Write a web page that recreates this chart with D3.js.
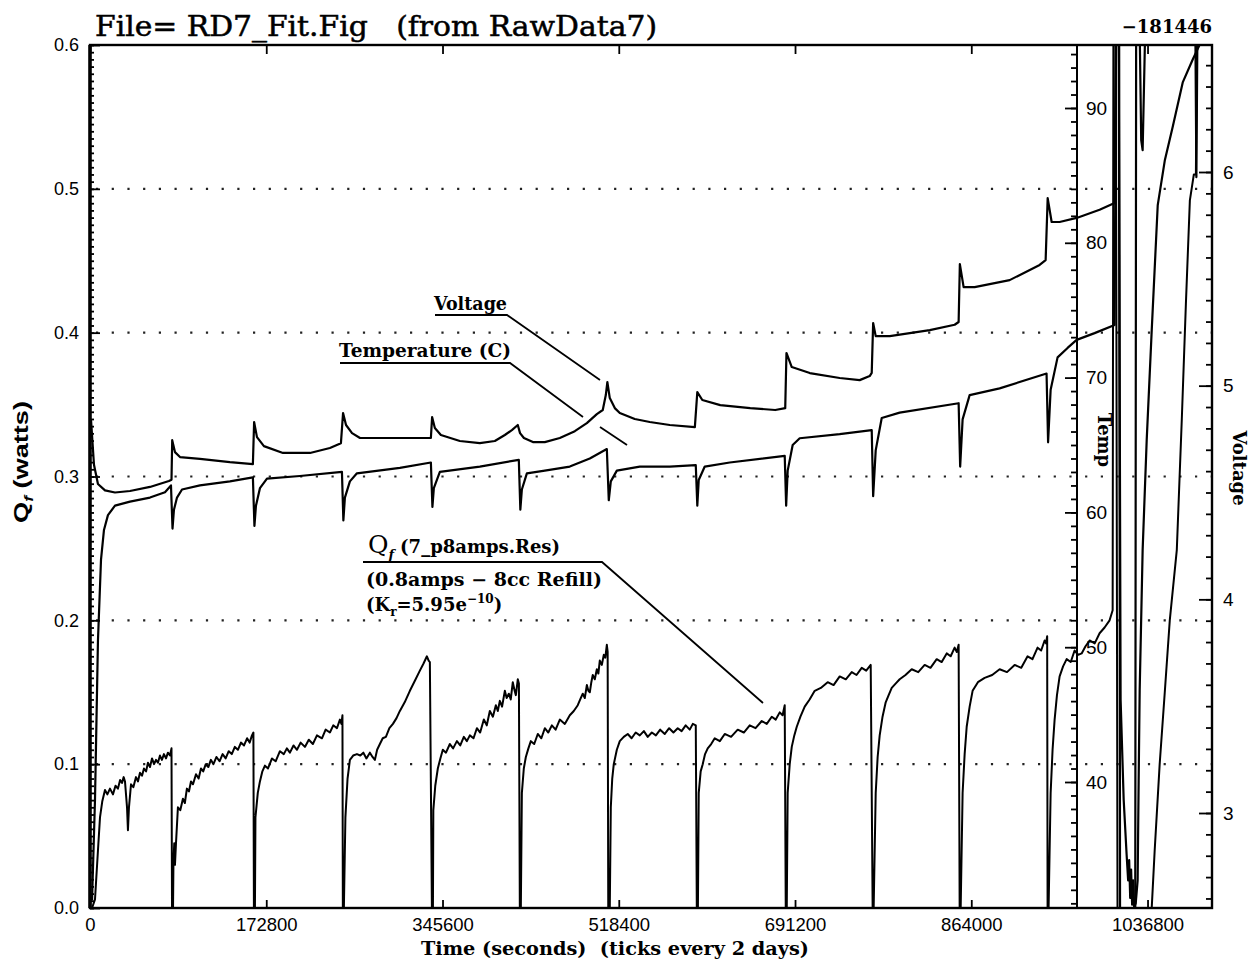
<!DOCTYPE html>
<html><head><meta charset="utf-8">
<script src="https://cdn.jsdelivr.net/npm/d3@7"></script>
<style>body{margin:0;background:#fff;} svg{display:block;} .pre{white-space:pre;}</style>
</head><body>
<svg id="chart" width="1255" height="966"></svg>
<script>
// ---------------- DATA ----------------
const xTickValues = [0, 172800, 345600, 518400, 691200, 864000, 1036800];
const qTickValues = [0, 0.1, 0.2, 0.3, 0.4, 0.5, 0.6];
const qGridValues = [0.1, 0.2, 0.3, 0.4, 0.5];
const tempTickValues = [40, 50, 60, 70, 80, 90];
const voltTickValues = [3, 4, 5, 6];

// Q_f (watts) vs time (s)
const qSeries = [
[2000,0],[4900,0.006],[7800,0.04],[9800,0.063],[12000,0.074],[14700,0.082],[17000,0.079],[19600,0.083],[22500,0.079],[25000,0.085],[27400,0.083],[29500,0.089],[31400,0.087],[33000,0.091],[34300,0.088],[36300,0.07],[37200,0.054],[38200,0.07],[40200,0.086],[42500,0.084],[45100,0.091],[47000,0.088],[49000,0.094],[51000,0.092],[52900,0.097],[55000,0.095],[56800,0.101],[58800,0.098],[60800,0.104],[62800,0.1],[64700,0.103],[66600,0.101],[68600,0.106],[70500,0.103],[72500,0.107],[74500,0.104],[76400,0.108],[78400,0.106],[79900,0.111],[80400,0],
[81400,0],[81800,0.031],[82600,0.045],[83300,0.03],[84300,0.045],[86200,0.07],[88500,0.068],[91100,0.076],[93000,0.073],[95000,0.083],[97000,0.081],[99000,0.088],[101000,0.086],[103900,0.093],[106500,0.09],[108800,0.097],[111000,0.095],[113500,0.1],[116000,0.098],[118500,0.103],[121000,0.1],[124000,0.105],[127000,0.102],[130000,0.107],[133000,0.104],[136000,0.109],[139000,0.107],[142000,0.112],[145000,0.11],[148000,0.115],[151000,0.113],[154000,0.118],[156500,0.115],[158800,0.12],[160200,0.122],[160700,0],
[161700,0],[162200,0.063],[164500,0.08],[166600,0.088],[169000,0.095],[171500,0.099],[174500,0.097],[178400,0.104],[182000,0.102],[186200,0.109],[190000,0.107],[193000,0.111],[196000,0.108],[199500,0.113],[202900,0.11],[206500,0.115],[210700,0.112],[214500,0.117],[218500,0.114],[222500,0.12],[227400,0.118],[231000,0.124],[235200,0.122],[238500,0.127],[242100,0.125],[245000,0.131],[246500,0.128],[247500,0.134],[247900,0],
[248900,0],[250400,0.063],[252500,0.09],[254800,0.103],[258000,0.106],[261700,0.107],[265000,0.106],[268000,0.108],[271000,0.104],[274400,0.108],[277000,0.105],[279300,0.103],[281500,0.11],[284200,0.114],[287000,0.118],[290100,0.119],[293500,0.125],[297000,0.128],[300500,0.132],[303800,0.137],[308500,0.143],[313600,0.151],[318500,0.158],[323400,0.165],[327000,0.17],[330300,0.175],[332000,0.172],[333200,0.171],[335200,0],
[336200,0],[336600,0.068],[338500,0.085],[341000,0.097],[343500,0.104],[345900,0.11],[349000,0.108],[352800,0.114],[356000,0.111],[359700,0.116],[363000,0.113],[366500,0.119],[369500,0.116],[372400,0.12],[376000,0.118],[379300,0.125],[382500,0.122],[386100,0.131],[389000,0.127],[392000,0.137],[395000,0.133],[397900,0.141],[399800,0.137],[401800,0.144],[404000,0.14],[406700,0.151],[408500,0.146],[410600,0.149],[412500,0.145],[414500,0.157],[416000,0.152],[417500,0.148],[419400,0.159],[420500,0.156],[421400,0],
[422400,0],[423400,0.08],[425300,0.097],[427300,0.105],[429800,0.111],[432200,0.116],[435500,0.114],[439000,0.121],[442500,0.118],[445900,0.125],[449300,0.122],[452800,0.127],[456500,0.124],[460600,0.131],[465500,0.128],[470400,0.134],[474300,0.137],[478200,0.141],[480600,0.145],[483100,0.149],[485100,0.146],[487100,0.155],[488600,0.151],[490000,0.15],[491500,0.157],[492900,0.162],[494900,0.159],[496900,0.166],[498400,0.163],[499800,0.172],[501800,0.169],[503700,0.176],[505200,0.174],[506700,0.183],[507500,0.178],[508100,0],
[509600,0],[510600,0.07],[512000,0.09],[513500,0.1],[516500,0.11],[519400,0.116],[523300,0.119],[527200,0.121],[531000,0.118],[535000,0.122],[539000,0.12],[543000,0.123],[546800,0.119],[550800,0.122],[554800,0.12],[559000,0.124],[563500,0.121],[567800,0.125],[572000,0.122],[576200,0.125],[580000,0.123],[584000,0.127],[588000,0.124],[591000,0.128],[593900,0.127],[594900,0],
[596000,0],[596800,0.08],[598700,0.095],[600700,0.1],[603000,0.107],[605600,0.111],[609000,0.114],[612500,0.118],[617500,0.116],[622300,0.121],[628500,0.119],[635000,0.124],[641000,0.122],[646800,0.127],[652500,0.125],[658600,0.13],[663500,0.128],[668400,0.133],[672300,0.131],[676200,0.136],[679000,0.134],[681100,0.141],[682100,0],
[683100,0],[684000,0.08],[686000,0.1],[688000,0.112],[690500,0.12],[692900,0.126],[696500,0.133],[700700,0.14],[705500,0.145],[710500,0.151],[716500,0.153],[723200,0.157],[729000,0.155],[735000,0.161],[741000,0.159],[746800,0.164],[751500,0.162],[756600,0.167],[761000,0.165],[765400,0.169],[767300,0],
[768300,0],[770300,0.08],[772200,0.105],[774200,0.12],[777000,0.133],[780100,0.143],[783000,0.148],[786000,0.153],[789800,0.156],[793800,0.159],[799500,0.162],[805600,0.166],[812000,0.164],[818300,0.169],[824000,0.167],[830100,0.173],[835000,0.171],[839900,0.177],[843800,0.175],[847700,0.181],[849800,0.178],[851600,0.183],[852600,0],
[853600,0],[855500,0.08],[857500,0.107],[859500,0.126],[862400,0.14],[865300,0.151],[870500,0.157],[877100,0.16],[884500,0.162],[891800,0.166],[899000,0.164],[906500,0.169],[913000,0.167],[919200,0.175],[924000,0.173],[929000,0.181],[932500,0.179],[935900,0.186],[937300,0.184],[938400,0.189],[938800,0],
[939800,0],[941800,0.08],[943700,0.11],[945700,0.131],[948000,0.148],[950600,0.161],[954000,0.168],[957500,0.173],[961500,0.171],[965300,0.179],[968800,0.176],[972200,0.177],[976000,0.182],[980000,0.186],[985000,0.184],[989800,0.191],[994700,0.195],[999600,0.2],[1002600,0.207],
[1003500,0.7],[1005500,0.7],[1007500,-0.05],[1039900,-0.05],[1040900,0],[1043800,0.04],[1048700,0.1],[1053700,0.15],[1058600,0.2],[1065500,0.249],[1070400,0.34],[1074400,0.42],[1078300,0.492],[1082200,0.51],[1084200,0.51],[1086200,0.7]
];

// Cell voltage (V) vs time (s)
const voltSeries = [
[1000,4.84],[3900,4.63],[7800,4.54],[14700,4.51],[24500,4.50],[39200,4.507],[58800,4.526],[77400,4.554],[79900,4.56],[80600,4.745],[83300,4.689],[88200,4.666],[107800,4.657],[137200,4.642],[159700,4.633],
[160900,4.83],[163700,4.759],[170500,4.717],[189200,4.685],[215700,4.685],[235200,4.708],[246000,4.731],
[248100,4.872],[251000,4.816],[256900,4.778],[264700,4.755],[303800,4.755],[334200,4.755],
[335400,4.853],[338100,4.802],[344000,4.769],[362600,4.741],[382200,4.731],[396900,4.741],[406700,4.769],[413600,4.792],[419400,4.816],
[421600,4.778],[425400,4.755],[434200,4.736],[445900,4.736],[460600,4.755],[475300,4.787],[487100,4.825],[496900,4.867],[502700,4.886],[505700,4.956],[507200,5.017],[509600,4.942],[514500,4.895],[519400,4.872],[534100,4.844],[548800,4.83],[568400,4.816],[593000,4.806],
[595400,4.97],[600300,4.933],[617900,4.909],[647300,4.895],[671800,4.886],[681600,4.895],
[682800,5.153],[688000,5.087],[705700,5.059],[735000,5.036],[754600,5.026],[764400,5.045],[766400,5.06],
[767800,5.293],[770300,5.232],[784100,5.232],[823300,5.26],[847700,5.285],[851600,5.298],
[852800,5.569],[856500,5.461],[867300,5.461],[901600,5.494],[931000,5.565],[936900,5.588],
[938900,5.878],[942800,5.766],[950600,5.766],[967300,5.785],[989800,5.823],[1004500,5.855],
[1006000,7.0],[1008900,7.0],[1009900,2.3],[1024700,2.3],[1025700,7.0],[1028100,7.0],[1030600,6.149],[1032000,6.102],[1036000,7.0],[1083200,7.0],[1084700,5.976],[1086200,7.0],[1100000,7.0]
];

// Cell temperature (C) vs time (s)
const tempSeries = [
[2000,31.2],[4900,38.7],[7800,50.5],[10800,56.5],[13700,58.7],[17600,59.8],[24500,60.5],[39200,60.8],[58800,61.1],[73500,61.5],[79400,62.0],
[80900,58.8],[82300,60.2],[85300,61.1],[90200,61.7],[107800,62.0],[137200,62.3],[159700,62.6],
[161200,59.0],[162700,60.5],[166600,61.8],[173500,62.5],[205800,62.7],[247000,63.0],
[248400,59.4],[249900,61.1],[254800,62.3],[261700,62.9],[303800,63.3],[334200,63.7],
[335700,60.4],[337100,61.8],[343000,63.0],[382200,63.4],[420400,63.9],
[421900,60.2],[423400,61.7],[428300,62.9],[445900,63.1],[470400,63.4],[490000,64.0],[506700,64.7],
[508600,60.9],[510600,62.3],[516500,63.1],[539000,63.4],[568400,63.4],[593900,63.5],
[595400,60.5],[596800,62.4],[602700,63.4],[627200,63.7],[681100,64.2],
[682500,60.5],[684000,63.1],[688900,65.0],[695800,65.5],[735000,65.8],[766400,66.1],
[767800,61.2],[770300,64.6],[776200,67.0],[793800,67.4],[851600,68.1],
[853100,63.4],[855500,66.9],[862400,68.7],[891800,69.2],[937800,70.3],
[939300,65.2],[941800,69.1],[948600,71.5],[958400,72.2],[967300,72.8],[984900,73.3],[1004500,73.9],
[1006000,96],[1008500,96],[1010400,46.1],[1013400,38.7],[1016300,34.6],[1017800,32.7],[1018800,34.2],[1019800,31.4],[1020700,33.5],[1021700,30.9],[1022700,32.7],[1023700,30.7],[1025200,31.0],[1027100,32.7],[1028100,40.1],[1029100,46.8],[1032000,57.2],[1036000,65.4],[1040900,73.5],[1046800,82.8],[1053700,86.1],[1061500,88.6],[1071300,91.9],[1081100,93.6],[1088000,94.7],[1092900,95.8]
];

// ---------------- LAYOUT ----------------
const svg = d3.select("#chart");
const L = 90, R = 1212, T = 45, B = 908;
const tempAxisX = 1077;
const sans = "'Liberation Sans', Arial, sans-serif";
const serif = "'DejaVu Serif', serif";

const x = d3.scaleLinear().domain([0, 1100000]).range([L, R]);
const yQ = d3.scaleLinear().domain([0, 0.6]).range([B, T]);
const yT = d3.scaleLinear().domain([40, 90]).range([782, 108]);
const yV = d3.scaleLinear().domain([3, 6]).range([813, 172]);

svg.append("rect").attr("width",1255).attr("height",966).attr("fill","#fff");

svg.append("defs").append("clipPath").attr("id","plotclip")
  .append("rect").attr("x",L).attr("y",T).attr("width",R-L).attr("height",B-T);

// dotted grid
svg.append("g").selectAll("line").data(qGridValues).join("line")
  .attr("x1", L+6).attr("x2", R).attr("y1", d=>yQ(d)).attr("y2", d=>yQ(d))
  .attr("stroke","#222").attr("stroke-width",2.2).attr("stroke-dasharray","2.2,13.5");

function styleAxis(g, fs){
  g.select(".domain").remove();
  g.selectAll("line").attr("stroke","#000").attr("stroke-width",1.8);
  g.selectAll("text").attr("font-family", sans).attr("font-size", fs).attr("fill","#000");
}

// left axis ticks
const qMinor = d3.range(0, 0.6001, 0.005);
svg.append("g").attr("transform",`translate(${L},0)`)
  .call(d3.axisRight(yQ).tickValues(qMinor).tickSize(4).tickFormat("")).call(g=>styleAxis(g,18));
svg.append("g").attr("transform",`translate(${L},0)`)
  .call(d3.axisRight(yQ).tickValues(qTickValues).tickSize(10).tickFormat("")).call(g=>styleAxis(g,18));
svg.append("g").attr("transform",`translate(${L},0)`)
  .call(d3.axisLeft(yQ).tickValues(qTickValues).tickSize(0).tickPadding(11).tickFormat(d3.format(".1f")))
  .call(g=>styleAxis(g,18));

// x axis
svg.append("g").attr("transform",`translate(0,${B})`)
  .call(d3.axisTop(x).tickValues(xTickValues).tickSize(8).tickFormat("")).call(g=>styleAxis(g,18));
svg.append("g").attr("transform",`translate(0,${T})`)
  .call(d3.axisBottom(x).tickValues(xTickValues).tickSize(9).tickFormat("")).call(g=>styleAxis(g,18));
svg.append("g").attr("transform",`translate(0,${B})`)
  .call(d3.axisBottom(x).tickValues(xTickValues).tickSize(0).tickPadding(10).tickFormat(d3.format("d")))
  .call(g=>styleAxis(g,18.5));

// temp axis
const tMinor = d3.range(31, 95, 1);
svg.append("line").attr("x1",tempAxisX).attr("x2",tempAxisX).attr("y1",T).attr("y2",B)
  .attr("stroke","#000").attr("stroke-width",2);
svg.append("g").attr("transform",`translate(${tempAxisX},0)`)
  .call(d3.axisLeft(yT).tickValues(tMinor).tickSize(6).tickFormat("")).call(g=>styleAxis(g,18));
svg.append("g").attr("transform",`translate(${tempAxisX},0)`)
  .call(d3.axisLeft(yT).tickValues(tempTickValues).tickSize(12).tickFormat("")).call(g=>styleAxis(g,18));
svg.append("g").attr("transform",`translate(${tempAxisX},0)`)
  .call(d3.axisRight(yT).tickValues(tempTickValues).tickSize(0).tickPadding(9).tickFormat(d3.format("d")))
  .call(g=>styleAxis(g,19));

// voltage axis
const vMinor = d3.range(2.6, 6.55, 0.1);
svg.append("g").attr("transform",`translate(${R},0)`)
  .call(d3.axisLeft(yV).tickValues(vMinor).tickSize(6).tickFormat("")).call(g=>styleAxis(g,18));
svg.append("g").attr("transform",`translate(${R},0)`)
  .call(d3.axisLeft(yV).tickValues(voltTickValues).tickSize(13).tickFormat("")).call(g=>styleAxis(g,18));
svg.append("g").attr("transform",`translate(${R},0)`)
  .call(d3.axisRight(yV).tickValues(voltTickValues).tickSize(0).tickPadding(11).tickFormat(d3.format("d")))
  .call(g=>styleAxis(g,19));

// curves
const plot = svg.append("g").attr("clip-path","url(#plotclip)");
const lineQ = d3.line().x(d=>x(d[0])).y(d=>yQ(d[1]));
const lineT = d3.line().x(d=>x(d[0])).y(d=>yT(d[1]));
const lineV = d3.line().x(d=>x(d[0])).y(d=>yV(d[1]));
[[tempSeries,lineT,2.2],[voltSeries,lineV,2.2],[qSeries,lineQ,2.0]].forEach(([data,gen,w])=>{
  plot.append("path").datum(data).attr("d",gen).attr("fill","none")
    .attr("stroke","#000").attr("stroke-width",w).attr("stroke-linejoin","round");
});

// frame
svg.append("rect").attr("x",L).attr("y",T).attr("width",R-L).attr("height",B-T)
  .attr("fill","none").attr("stroke","#000").attr("stroke-width",2.4);
svg.append("line").attr("x1",L).attr("x2",L).attr("y1",T).attr("y2",B)
  .attr("stroke","#000").attr("stroke-width",3.5);

// titles
svg.append("text").attr("class","pre").attr("x",95).attr("y",36).attr("font-family",serif).attr("font-size",27)
  .attr("stroke","#000").attr("stroke-width",0.5)
  .attr("textLength",562).attr("lengthAdjust","spacingAndGlyphs")
  .text("File= RD7_Fit.Fig   (from RawData7)");
svg.append("text").attr("x",1212).attr("y",33).attr("text-anchor","end").attr("font-family",serif)
  .attr("font-weight","bold").attr("font-size",18).text("\u2212181446");

const qLab = svg.append("text").attr("transform","translate(28,462) rotate(-90)")
  .attr("text-anchor","middle").attr("font-family",sans).attr("font-weight","bold").attr("font-size",20)
  .attr("textLength",122).attr("lengthAdjust","spacingAndGlyphs");
qLab.append("tspan").text("Q");
qLab.append("tspan").attr("font-size",13).attr("font-style","italic").attr("dy",5).text("f");
qLab.append("tspan").attr("dy",-5).attr("class","pre").text(" (watts)");

svg.append("text").attr("class","pre").attr("x",615).attr("y",955).attr("text-anchor","middle").attr("font-family",serif)
  .attr("font-weight","bold").attr("font-size",18).attr("textLength",388).attr("lengthAdjust","spacingAndGlyphs")
  .text("Time (seconds)  (ticks every 2 days)");

svg.append("text").attr("transform","translate(1098,440) rotate(90)").attr("text-anchor","middle")
  .attr("font-family",serif).attr("font-weight","bold").attr("font-size",18).text("Temp");
svg.append("text").attr("transform","translate(1233,468) rotate(90)").attr("text-anchor","middle")
  .attr("font-family",serif).attr("font-weight","bold").attr("font-size",18).text("Voltage");

// annotations
const ann = svg.append("g").attr("font-family",serif).attr("font-weight","bold").attr("fill","#000");
ann.append("text").attr("x",434).attr("y",310).attr("font-size",18).attr("textLength",73)
  .attr("lengthAdjust","spacingAndGlyphs").text("Voltage");
ann.append("text").attr("x",339).attr("y",357).attr("font-size",18).attr("textLength",172)
  .attr("lengthAdjust","spacingAndGlyphs").text("Temperature (C)");
const q1 = ann.append("text").attr("x",368).attr("y",553).attr("font-size",18);
q1.append("tspan").attr("font-size",25).attr("font-weight","normal").text("Q");
q1.append("tspan").attr("font-size",13).attr("dy",6).attr("font-style","italic").text("f");
q1.append("tspan").attr("dy",-6).attr("dx",6).text("(7_p8amps.Res)");
ann.append("text").attr("class","pre").attr("x",366).attr("y",586).attr("font-size",18).attr("textLength",236)
  .attr("lengthAdjust","spacingAndGlyphs").text("(0.8amps \u2212 8cc Refill)");
const k1 = ann.append("text").attr("x",366).attr("y",611).attr("font-size",18);
k1.append("tspan").text("(K");
k1.append("tspan").attr("font-size",12).attr("dy",5).text("r");
k1.append("tspan").attr("dy",-5).text("=5.95e");
k1.append("tspan").attr("font-size",12).attr("dy",-8).text("\u221210");
k1.append("tspan").attr("dy",8).text(")");

const leaders = [
  [[435,315],[507,315],[600,380]],
  [[340,363],[510,363],[583,417]],
  [[600,427],[627,445]],
  [[363,562],[602,562],[763,703]]
];
ann.selectAll("path.ld").data(leaders).join("path").attr("class","ld")
  .attr("d", d=>d3.line()(d)).attr("fill","none").attr("stroke","#000").attr("stroke-width",1.8);
</script>
</body></html>
